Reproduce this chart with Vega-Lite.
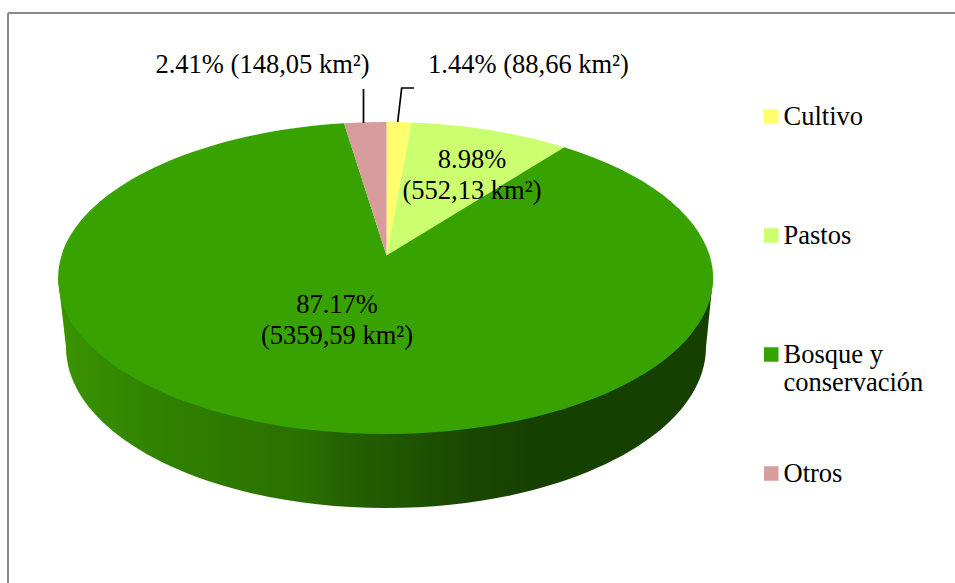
{
  "$schema": "https://vega.github.io/schema/vega-lite/v6.json",
  "width": 947,
  "height": 570,
  "padding": {"left": 8, "top": 13, "right": 0, "bottom": 0},
  "autosize": {"type": "none"},
  "background": "white",
  "config": {"view": {"stroke": null}, "font": "Liberation Serif"},
  "datasets": {
    "uso": [
      {"categoria": "Cultivo", "sector": "s1", "porcentaje": 1.44, "km2": 88.66, "px": 0, "py": 0, "etiqueta": "1.44% (88,66 km²)", "ex": 143, "ey": 213},
      {"categoria": "Pastos", "sector": "s2", "porcentaje": 8.98, "km2": 552.13, "px": 0, "py": 0, "etiqueta": "8.98%\n(552,13 km²)", "ex": 86.5, "ey": 118.5},
      {"categoria": "Bosque y conservación", "sector": "s3", "porcentaje": 87.17, "km2": 5359.59, "px": 0, "py": 0, "etiqueta": "87.17%\n(5359,59 km²)", "ex": -48.5, "ey": -27},
      {"categoria": "Otros", "sector": "s4", "porcentaje": 2.41, "km2": 148.05, "px": 0, "py": 0, "etiqueta": "2.41% (148,05 km²)", "ex": -123, "ey": 213}
    ],
    "guias": [
      {"guia": "Otros", "orden": 1, "gx": -22, "gy": 155},
      {"guia": "Otros", "orden": 2, "gx": -22, "gy": 189},
      {"guia": "Cultivo", "orden": 1, "gx": 12.2, "gy": 156},
      {"guia": "Cultivo", "orden": 2, "gx": 16.2, "gy": 190},
      {"guia": "Cultivo", "orden": 3, "gx": 28.5, "gy": 190}
    ],
    "marco": [{"mx": -377.5, "my": 265}]
  },
  "data": {"name": "uso"},
  "layer": [
    {
      "transform": [{"filter": "datum.sector === 's3'"}],
      "mark": {
        "type": "point",
        "filled": true,
        "opacity": 1,
        "size": 4,
        "strokeWidth": 0,
        "shape": "M-327.5,0 L-319.5,69 A320,161 0 0 0 320.5,69 L327.5,0 Z",
        "fill": {
          "gradient": "linear", "x1": 0, "y1": 0, "x2": 1, "y2": 0,
          "stops": [
            {"offset": 0, "color": "#3a9400"},
            {"offset": 0.17, "color": "#2f8000"},
            {"offset": 0.37, "color": "#2a7000"},
            {"offset": 0.43, "color": "#256300"},
            {"offset": 0.6, "color": "#1b4a00"},
            {"offset": 0.72, "color": "#164000"},
            {"offset": 1, "color": "#164000"}
          ]
        }
      },
      "encoding": {
        "x": {"field": "px", "type": "quantitative", "scale": {"domain": [-377.5, 569.5]}, "axis": null},
        "y": {"field": "py", "type": "quantitative", "scale": {"domain": [-305, 265]}, "axis": null}
      }
    },
    {
      "mark": {"type": "point", "filled": true, "opacity": 1, "size": 4, "strokeWidth": 0},
      "encoding": {
        "x": {"field": "px", "type": "quantitative", "scale": {"domain": [-377.5, 569.5]}, "axis": null},
        "y": {"field": "py", "type": "quantitative", "scale": {"domain": [-305, 265]}, "axis": null},
        "shape": {
          "field": "sector",
          "type": "nominal",
          "legend": null,
          "scale": {
            "domain": ["s1", "s2", "s3", "s4"],
            "range": [
              "M1,-22.5 L1,-156 A327.5,156 0 0 1 26.2,-155.6 Z",
              "M1,-22.5 L26.2,-155.6 A327.5,156 0 0 1 178.8,-130.7 Z",
              "M1,-22.5 L178.8,-130.7 A327.5,156 0 1 1 -41.5,-154.7 Z",
              "M1,-22.5 L-41.5,-154.7 A327.5,156 0 0 1 1,-156 Z"
            ]
          }
        },
        "color": {
          "field": "categoria",
          "type": "nominal",
          "scale": {
            "domain": ["Cultivo", "Pastos", "Bosque y conservación", "Otros"],
            "range": ["#ffff6e", "#ccff70", "#38a300", "#d99c9c"]
          },
          "legend": {
            "title": null,
            "orient": "none",
            "legendX": 750,
            "legendY": 61.5,
            "padding": 0,
            "symbolType": "square",
            "symbolSize": 210,
            "symbolStrokeWidth": 0,
            "labelFont": "Liberation Serif",
            "labelFontSize": 26.5,
            "labelColor": "black",
            "labelBaseline": "middle",
            "labelOffset": -1,
            "labelLimit": 300,
            "clipHeight": 84,
            "rowPadding": 35,
            "labelExpr": "datum.label === 'Bosque y conservación' ? ['Bosque y', 'conservación'] : datum.label"
          }
        }
      }
    },
    {
      "mark": {"type": "text", "font": "Liberation Serif", "fontSize": 26.5, "color": "black", "lineBreak": "\n", "lineHeight": 31, "align": "center", "baseline": "middle"},
      "encoding": {
        "x": {"field": "ex", "type": "quantitative", "scale": {"domain": [-377.5, 569.5]}, "axis": null},
        "y": {"field": "ey", "type": "quantitative", "scale": {"domain": [-305, 265]}, "axis": null},
        "text": {"field": "etiqueta", "type": "nominal"}
      }
    },
    {
      "data": {"name": "guias"},
      "mark": {"type": "line", "color": "black", "strokeWidth": 1.7, "clip": false},
      "encoding": {
        "x": {"field": "gx", "type": "quantitative", "scale": {"domain": [-377.5, 569.5]}, "axis": null},
        "y": {"field": "gy", "type": "quantitative", "scale": {"domain": [-305, 265]}, "axis": null},
        "detail": {"field": "guia", "type": "nominal"},
        "order": {"field": "orden", "type": "quantitative"}
      }
    },
    {
      "data": {"name": "marco"},
      "mark": {"type": "rule", "color": "#8a8a8a", "strokeWidth": 2},
      "encoding": {
        "x": {"field": "mx", "type": "quantitative", "scale": {"domain": [-377.5, 569.5]}, "axis": null}
      }
    },
    {
      "data": {"name": "marco"},
      "mark": {"type": "rule", "color": "#8a8a8a", "strokeWidth": 2},
      "encoding": {
        "y": {"field": "my", "type": "quantitative", "scale": {"domain": [-305, 265]}, "axis": null}
      }
    }
  ]
}
